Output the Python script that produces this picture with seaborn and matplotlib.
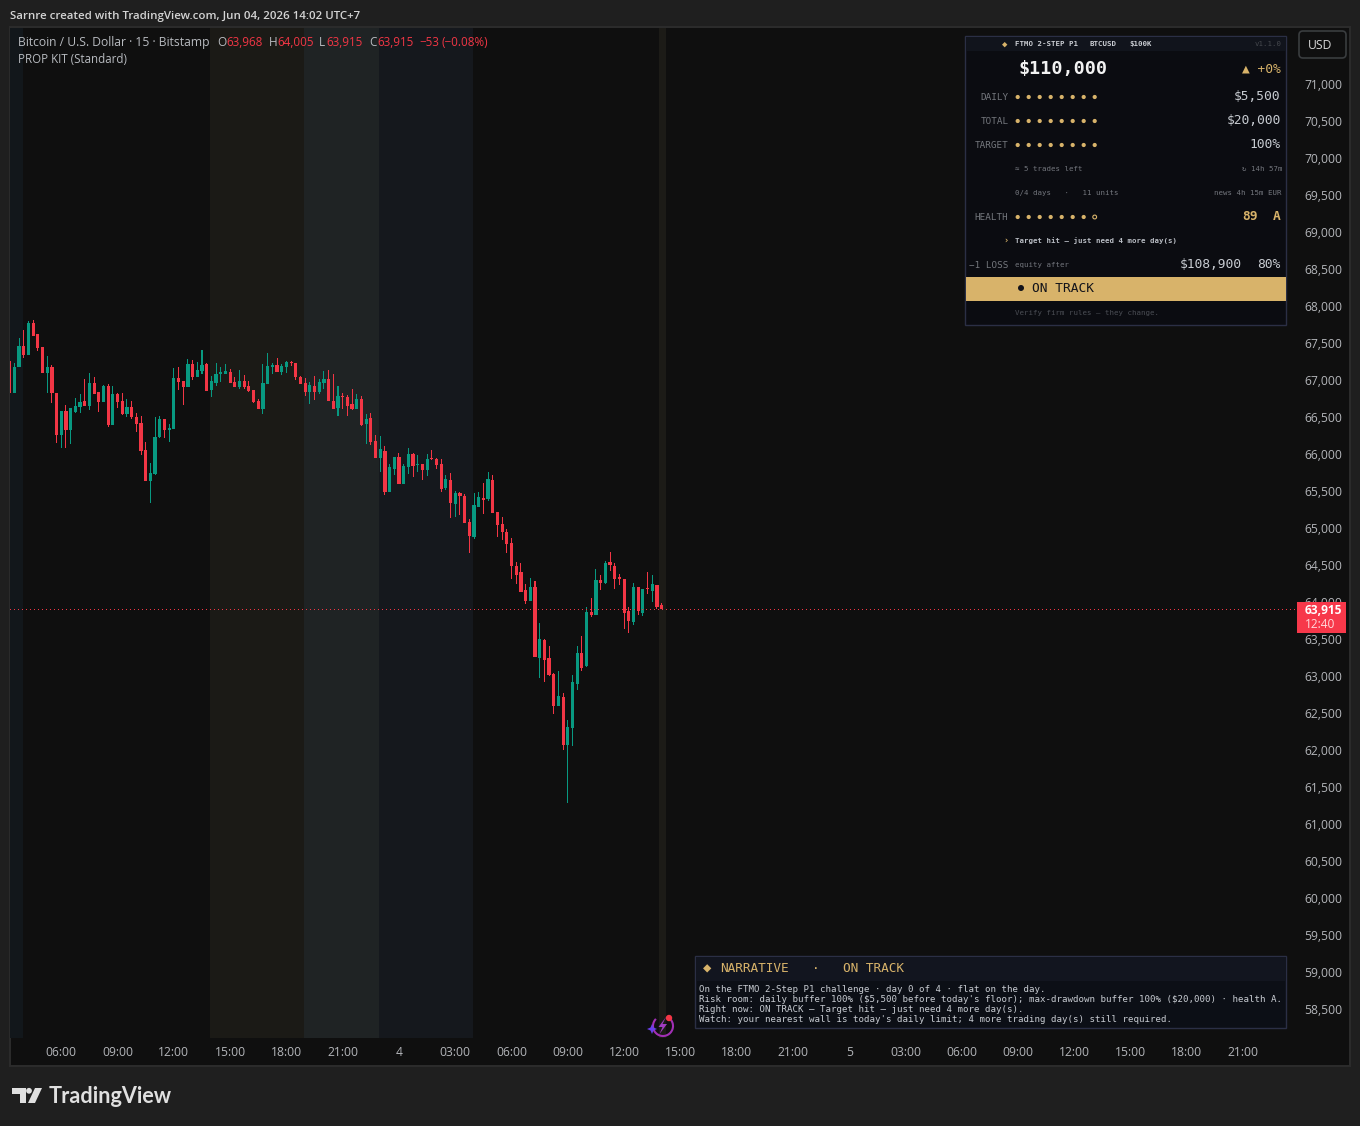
import matplotlib
matplotlib.use("Agg")
import matplotlib.pyplot as plt
from matplotlib.patches import Rectangle, FancyBboxPatch, Circle, Polygon, Arc
from matplotlib.transforms import ScaledTranslation
import numpy as np
import pandas as pd
import seaborn as sns

# BTC/USD 15-minute bars, Bitstamp
opens = [67271,66843,67190,67473,67352,67784,67636,67460,67109,67190,66838,66271,66595,66338,66582,66649,66730,66663,66973,66852,
         66717,66933,66406,66825,66730,66555,66649,66514,66433,66068,65649,65744,66244,66487,66338,66352,67041,67001,66919,67230,
         67055,67136,67230,66879,66973,67095,67095,67122,66987,66919,67000,66932,66878,66730,66622,66959,67189,67216,67122,67189,
         67252,67243,67054,66973,66851,66932,66851,66973,67027,66730,66635,66797,66784,66689,66622,66757,66419,66500,66189,65959,
         66054,65500,65811,65973,65608,65838,66013,65865,65878,65797,65959,65946,65878,65554,65662,65338,65486,65446,65095,64892,
         65298,65419,65406,65662,65230,65068,64960,64811,64500,64419,64176,64027,64216,63256,63500,63256,63040,62608,62729,62081,
         62310,62905,63324,63148,63879,63838,64311,64271,64554,64500,64338,64325,63892,63743,64216,63865,64203,64162,64243,63968]
highs = [67284,67239,67582,67690,67811,67825,67636,67460,67338,67217,66838,66595,66676,66636,66771,66825,67028,67109,67055,66852,
         66946,66960,66933,66838,66838,66757,66730,66568,66528,66176,65892,66514,66528,66487,66419,67176,67190,67001,67298,67284,
         67257,67419,67244,67068,67244,67190,67230,67163,67055,67149,67081,67000,66878,66757,67230,67378,67243,67311,67230,67270,
         67270,67243,67067,67040,66986,67067,67027,67135,67149,67095,66932,66838,66811,66892,66824,66797,66554,66567,66270,66257,
         66122,65878,65973,66027,65878,66094,66027,66000,65878,66013,66067,65959,65946,65730,65757,65513,65500,65473,65135,65487,
         65500,65622,65771,65730,65230,65162,65000,64879,64554,64541,64257,64338,64297,63725,63513,63419,63054,63081,62783,62419,
         63027,63419,63554,63946,64068,64460,64379,64568,64689,64541,64392,64325,63946,64271,64216,64189,64419,64379,64243,64005]
lows = [66811,66840,67190,67311,67352,67609,67406,67109,66838,66703,66163,66095,66095,66149,66568,66568,66663,66609,66825,66582,
        66717,66379,66406,66636,66541,66514,66487,66311,66000,65649,65352,65730,66230,66230,66176,66352,66879,66676,66919,67014,
        67055,67095,66865,66784,66933,66987,67095,66973,66919,66892,66892,66851,66703,66622,66554,66959,67095,67122,67081,67108,
        67203,67013,66959,66797,66689,66743,66824,66892,66730,66622,66527,66622,66527,66608,66622,66392,66149,66135,65959,65770,
        65459,65500,65730,65608,65608,65743,65703,65770,65662,65716,65932,65811,65500,65527,65148,65162,65189,65081,64676,64865,
        65298,65203,65379,65216,64892,64852,64676,64325,64257,64149,63987,64027,63270,62986,62932,63013,62500,62608,62013,61297,
        62067,62824,63081,63135,63811,63838,64176,64257,64433,64189,64243,63649,63595,63703,63838,63825,64122,64014,63919,63915]
closes = [66834,67190,67473,67352,67784,67609,67446,67109,67190,66838,66271,66595,66338,66636,66663,66717,66663,66973,66825,66717,
          66933,66406,66825,66717,66555,66649,66514,66419,66054,65649,65757,66244,66487,66338,66365,67041,66987,66919,67230,67055,
          67149,67217,66865,67001,67095,67109,67136,66973,66919,67001,66919,66865,66716,66622,66973,67203,67216,67122,67203,67257,
          67238,67054,66959,66851,66946,66851,66986,67027,66730,66622,66797,66784,66662,66622,66757,66405,66486,66176,65959,66081,
          65500,65838,65973,65608,65851,66013,65851,65878,65797,65946,65946,65865,65540,65676,65351,65486,65446,65081,64906,65325,
          65433,65392,65676,65216,65054,64960,64798,64500,64379,64149,64027,64216,63270,63513,63229,63027,62608,62743,62081,62324,
          62932,63324,63121,63878,63838,64311,64271,64541,64514,64325,64325,63865,63757,64216,63892,64189,64189,64257,63946,63915]

price_ticks = list(range(58500, 71001, 500))
time_labels = ["06:00", "09:00", "12:00", "15:00", "18:00", "21:00", "4", "03:00", "06:00", "09:00", "12:00",
               "15:00", "18:00", "21:00", "5", "03:00", "06:00", "09:00", "12:00", "15:00", "18:00", "21:00"]
first_label_bar = 11
bars_per_label = 12

# session backgrounds as (first bar, last bar, colour)
sessions = [(-2.0, 2.8, "#12171b"), (42.7, 62.75, "#1b1a16"), (62.75, 78.7, "#1f2324"),
            (78.7, 98.8, "#15181d"), (138.5, 140.0, "#1c1b17")]

dot_rows = [("DAILY", 97, 8), ("TOTAL", 121, 8), ("TARGET", 145, 8), ("HEALTH", 217, 7)]
narrative_lines = [
    "On the FTMO 2-Step P1 challenge · day 0 of 4 · flat on the day.",
    "Risk room: daily buffer 100% ($5,500 before today's floor); max-drawdown buffer 100% ($20,000) · health A.",
    "Right now: ON TRACK — Target hit — just need 4 more day(s).",
    "Watch: your nearest wall is today's daily limit; 4 more trading day(s) still required.",
]

UP, DOWN = "#089981", "#f23645"
GOLD = "#d8b36a"
PANE, OUTER = "#0f0f0f", "#1f1f1f"
W, H = 1360, 1126

sns.set_theme(style="dark", rc={"figure.facecolor": OUTER, "axes.facecolor": PANE})
UI_FONT = ["Open Sans", "DejaVu Sans"]
MONO = ["DejaVu Sans Mono", "DejaVu Sans"]
plt.rcParams["font.family"] = UI_FONT

fig = plt.figure(figsize=(W / 100, H / 100), dpi=100)


def pixel_axes(z):
    a = fig.add_axes([0, 0, 1, 1], zorder=z)
    a.set_xlim(0, W)
    a.set_ylim(H, 0)
    a.axis("off")
    a.patch.set_alpha(0)
    return a


under = pixel_axes(0)
over = pixel_axes(2)
under.add_patch(Rectangle((10, 27), 1339.5, 1039, fc=PANE, ec="#2c2c2c", lw=1.4))

# candle pane
ax = fig.add_axes([10 / W, 1 - 1038 / H, 1286 / W, 1010 / H], zorder=1)
frame = pd.DataFrame({"bar": np.arange(len(opens)), "open": opens, "high": highs, "low": lows, "close": closes})
frame["top"] = frame[["open", "close"]].max(axis=1)
frame["bottom"] = frame[["open", "close"]].min(axis=1)
frame["rising"] = frame["close"] >= frame["open"]

for start, stop, colour in sessions:
    ax.axvspan(start, stop, color=colour, lw=0, zorder=0)

for rising, colour in [(True, UP), (False, DOWN)]:
    part = frame[frame["rising"] == rising]
    sns.barplot(x=part["bar"].values, y=(part["high"] - part["low"]).values, bottom=part["low"].values,
                native_scale=True, width=0.22, color=colour, saturation=1, errorbar=None, linewidth=0,
                antialiased=False, ax=ax, zorder=2)
    sns.barplot(x=part["bar"].values, y=(part["top"] - part["bottom"]).clip(lower=20).values, bottom=part["bottom"].values,
                native_scale=True, width=0.68, color=colour, saturation=1, errorbar=None, linewidth=0, ax=ax, zorder=3)

last_close = closes[-1]
ax.axhline(last_close, color=DOWN, lw=0.72, ls=(0, (1, 3)), zorder=4, snap=True, antialiased=False)
ax.set_xlim(0.064, 274.26)
ax.set_ylim(58122, 71770)
ax.set_xticks([first_label_bar + bars_per_label * k for k in range(len(time_labels))], labels=time_labels)
ax.set_yticks(price_ticks, labels=[f"{p:,}" for p in price_ticks])
ax.set_xlabel("")
ax.set_ylabel("")
ax.grid(False)
ax.yaxis.tick_right()
ax.tick_params(axis="both", length=0, colors="#b4b6ba", labelsize=8.7)
ax.tick_params(axis="y", pad=6.2)
ax.tick_params(axis="x", pad=5.5)
nudge_up = ScaledTranslation(0, 1 / 100, fig.dpi_scale_trans)
for lbl in ax.get_yticklabels():
    lbl.set_transform(lbl.get_transform() + nudge_up)
for spine in ax.spines.values():
    spine.set_visible(False)


def t(x, y, s, color="#d1d4dc", size=8.7, family=UI_FONT, ha="left", weight="normal", **kw):
    # y is the visual middle of the capitals, so mixed strings line up on one baseline
    baseline = y + 0.36 * size * 100 / 72
    return over.text(x, baseline, s, color=color, fontsize=size, family=family, ha=ha, va="baseline",
                     fontweight=weight, parse_math=False, **kw)


# page caption and instrument legend
t(10, 14.5, "Sarnre created with TradingView.com, Jun 04, 2026 14:02 UTC+7", size=8.25, color="#d4d4d4", weight=600)
t(18, 42, "Bitcoin / U.S. Dollar · 15 · Bitstamp", color="#b8bbc0")
t(18, 59, "PROP KIT (Standard)", color="#b8bbc0", size=8.3)
change = closes[-1] - opens[-1]
for px, letter, vx, value in [(217, "O", 226, opens[-1]), (269, "H", 277, highs[-1]), (319, "L", 326, lows[-1]), (369, "C", 377, closes[-1])]:
    t(px, 42, letter, color="#b8bbc0", size=8.5)
    t(vx, 42, f"{value:,}", color=DOWN, size=8.4)
t(419, 42, f"−{abs(change)}", color=DOWN, size=8.4)
t(442, 42, f"(−{abs(change) / opens[-1] * 100:.2f}%)", color=DOWN, size=8.4)

# currency button
over.add_patch(FancyBboxPatch((1301, 33), 43, 23, boxstyle="round,pad=2,rounding_size=4", fc=PANE, ec="#3a3d3f", lw=1.2))
t(1320, 44.5, "USD", ha="center", color="#d9d9d9", size=8.7)

# last price tag
over.add_patch(Rectangle((1297, 602), 49, 31, fc="#f7384a", ec="none"))
t(1305, 610, f"{last_close:,}", color="white", weight="bold", size=8.6)
t(1305, 624, "12:40", color="#ffd9dc", size=8.6)

# prop kit status panel
BORDER = "#2b2f45"
over.add_patch(Rectangle((965, 36), 321, 289, fc="#0b0c11", ec=BORDER, lw=1))
over.add_patch(Rectangle((966, 37), 320, 14, fc="#11141c", ec="none"))
t(1004.5, 43.5, "◆", color=GOLD, size=6.5, family=MONO, ha="center")
for px, label in [(1015, "FTMO 2-STEP P1"), (1090, "BTCUSD"), (1129, "$100K")]:
    t(px, 43.5, label, size=5.3, family=MONO, weight="bold", color="#c9ccd2")
t(1282, 43.5, "v1.1.0", size=5.3, family=MONO, ha="right", color="#45484e")
t(1019, 67.5, "$110,000", size=13.2, family=MONO, weight="bold", color="#f2f2f2")
t(1280.5, 67.5, "▲ +0%", size=9.3, family=MONO, ha="right", color=GOLD)

for label, y, filled in dot_rows:
    t(1008.5, y, label, size=6.7, family=MONO, ha="right", color="#75787e")
    for k in range(8):
        cx = 1017.7 + 11 * k
        if k < filled:
            over.add_patch(Circle((cx, y), 2.1, fc=GOLD, ec="none"))
        else:
            over.add_patch(Circle((cx, y), 1.9, fc="none", ec=GOLD, lw=0.8))

for value, y in [("$5,500", 95.5), ("$20,000", 119.5), ("100%", 143.5)]:
    t(1280.5, y, value, size=9.3, family=MONO, ha="right", color="#c8ccd2")
SMALL = "#74777e"
t(1015, 168.5, "≈ 5 trades left", size=5.3, family=MONO, color=SMALL)
t(1282, 168.5, "↻ 14h 57m", size=5.3, family=MONO, ha="right", color=SMALL)
t(1015, 192.5, "0/4 days   ·   11 units", size=5.3, family=MONO, color=SMALL)
t(1282, 192.5, "news 4h 15m EUR", size=5.3, family=MONO, ha="right", color=SMALL)
t(1257.5, 215.5, "89", size=9.3, family=MONO, ha="right", weight="bold", color=GOLD)
t(1280.5, 215.5, "A", size=9.3, family=MONO, ha="right", weight="bold", color=GOLD)
t(1005.5, 240.5, "›", size=6, family=MONO, ha="center", weight="bold", color=GOLD)
t(1015, 240.5, "Target hit — just need 4 more day(s)", size=5.3, family=MONO, weight="bold", color="#b9bdc4")
t(1008.5, 265, "−1 LOSS", size=6.7, family=MONO, ha="right", color="#75787e")
t(1015, 264.5, "equity after", size=5.3, family=MONO, color=SMALL)
t(1241.5, 263.5, "$108,900", size=9.3, family=MONO, ha="right", color="#c8ccd2")
t(1280.5, 263.5, "80%", size=9.3, family=MONO, ha="right", color="#c8ccd2")
over.add_patch(Rectangle((966, 277), 320, 24, fc=GOLD, ec="none"))
over.add_patch(Circle((1021, 288), 3, fc="#12131a", ec="none"))
t(1032, 287.5, "ON TRACK", size=9.3, family=MONO, color="#12131a")
t(1015, 312.5, "Verify firm rules — they change.", size=5.3, family=MONO, color="#4b4e55")

# narrative panel
over.add_patch(Rectangle((695, 956), 591, 72, fc="#0c0f16", ec=BORDER, lw=1))
over.add_patch(Rectangle((696, 957), 590, 24, fc="#12151f", ec="none"))
t(707, 967, "◆", color=GOLD, size=10, family=MONO, ha="center")
t(720, 967.5, "NARRATIVE", size=9.2, family=MONO, color=GOLD)
t(816, 967.5, "·", size=9.2, family=MONO, color=GOLD, ha="center")
t(843, 967.5, "ON TRACK", size=9.2, family=MONO, color=GOLD)
for k, line in enumerate(narrative_lines):
    t(699, 989 + 10 * k, line, size=6.57, family=MONO, color="#c8ccd2")

# assistant badge
over.add_patch(Arc((663, 1026), 20, 20, theta1=300, theta2=225, ec="#a12fb5", lw=1.5))
over.add_patch(Polygon([(666, 1017), (658.5, 1027), (662.5, 1027), (659.5, 1034), (667, 1024), (662.5, 1024)], fc="#a03cc0", ec="none"))
over.add_patch(Circle((669, 1018), 3.2, fc="#f23645", ec="none"))
over.add_patch(Polygon([(652, 1024), (653.5, 1027.5), (657, 1029), (653.5, 1030.5), (652, 1034), (650.5, 1030.5), (647, 1029), (650.5, 1027.5)],
                       fc="#6a3fe8", ec="none"))

# brand mark
LOGO = "#e0e0e0"
over.add_patch(Polygon([(12, 1088), (26, 1088), (26, 1103), (20, 1103), (20, 1094), (12, 1094)], fc=LOGO, ec="none"))
over.add_patch(Circle((29, 1090.8), 2.9, fc=LOGO, ec="none"))
over.add_patch(Polygon([(35, 1088), (42, 1088), (35, 1103), (28, 1103)], fc=LOGO, ec="none"))
t(48.5, 1095.5, "TradingView", size=15.6, family=["Lato", "DejaVu Sans"], weight="bold", color=LOGO)

fig.savefig("out.png", dpi=100, facecolor=fig.get_facecolor())
